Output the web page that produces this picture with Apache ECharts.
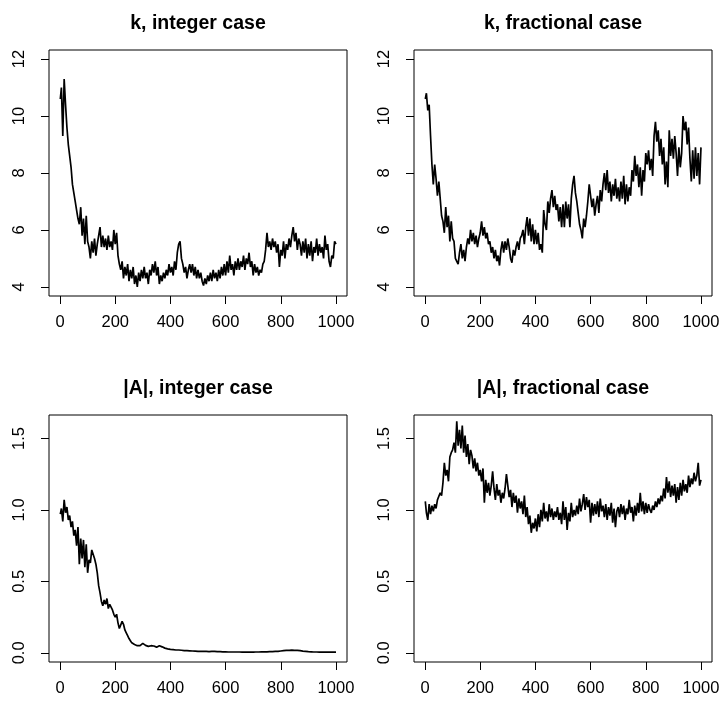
<!DOCTYPE html>
<html>
<head>
<meta charset="utf-8">
<title>k and |A| traces</title>
<script src="https://cdn.jsdelivr.net/npm/echarts@6/dist/echarts.min.js"></script>
<style>
  html, body { margin: 0; padding: 0; background: #fff; }
  #chart { width: 723px; height: 704px; }
</style>
</head>
<body>
<div id="chart"></div>
<script>
// values, one every 5 iterations (first one is iteration 1)
const iterations = Array.from({length: 201}, (_, i) => i === 0 ? 1 : i * 5);

const kInteger = [
  10.6, 11.0, 9.3, 11.3, 10.4, 9.6, 9.0, 8.6, 8.2, 7.6,
  7.3, 7.0, 6.7, 6.4, 6.2, 6.8, 5.8, 6.4, 5.5, 6.5,
  5.6, 5.4, 5.0, 5.6, 5.2, 5.7, 5.1, 5.5, 5.8, 6.1,
  5.4, 5.8, 5.4, 5.7, 5.3, 5.8, 5.4, 5.6, 5.3, 6.0,
  5.5, 5.9, 5.1, 4.8, 4.6, 4.9, 4.3, 4.7, 4.4, 4.8,
  4.2, 4.6, 4.3, 4.7, 4.1, 4.4, 4.0, 4.5, 4.2, 4.6,
  4.3, 4.7, 4.3, 4.5, 4.1, 4.6, 4.4, 4.8, 4.5, 4.9,
  4.4, 4.7, 4.1, 4.4, 4.2, 4.5, 4.3, 4.6, 4.4, 4.8,
  4.5, 4.7, 4.4, 4.9, 4.6, 5.2, 5.5, 5.6, 5.0, 4.8,
  4.5, 4.7, 4.3, 4.6, 4.8, 4.5, 4.8, 4.4, 4.7, 4.3,
  4.6, 4.3, 4.5, 4.2, 4.05, 4.3, 4.1, 4.4, 4.2, 4.5,
  4.2, 4.6, 4.3, 4.5, 4.2, 4.6, 4.3, 4.7, 4.4, 4.8,
  4.4, 4.9, 4.5, 5.1, 4.6, 4.8, 4.4, 4.9, 4.6, 5.0,
  4.6, 4.9, 4.7, 5.1, 4.6, 5.0, 4.8, 5.2, 4.7, 4.9,
  4.4, 4.8, 4.5, 4.7, 4.4, 4.6, 4.5, 4.8, 4.9, 5.3,
  5.9, 5.4, 5.6, 5.3, 5.7, 5.4, 5.6, 5.2, 5.5, 4.7,
  5.3, 5.1, 5.6, 5.0, 5.5, 5.3, 5.7, 5.4, 5.8, 6.1,
  5.6, 5.9, 5.3, 5.7, 5.5, 5.1, 5.6, 5.2, 5.7, 5.0,
  5.5, 5.1, 5.6, 4.9, 5.4, 5.2, 5.7, 5.1, 5.5, 5.2,
  5.4, 5.0, 5.8, 5.3, 5.5, 4.9, 4.7, 5.1, 5.0, 5.6,
  5.5
];

const kFractional = [
  10.6, 10.8, 10.2, 10.4, 9.3, 8.3, 7.6, 8.3, 7.8, 7.2,
  7.7, 7.1, 6.5, 6.3, 5.9, 6.8, 6.1, 6.5, 5.6, 6.3,
  5.7, 5.6, 5.0, 4.9, 4.8, 5.2, 5.5, 5.0, 5.3, 4.9,
  5.4, 5.7, 5.5, 6.0, 5.6, 5.9, 5.5, 5.8, 5.4, 5.7,
  5.9, 6.3, 5.8, 6.1, 5.7, 5.9, 5.5, 5.6, 5.2, 5.4,
  5.0, 5.3, 4.9, 5.1, 4.75, 5.3, 5.6, 5.2, 5.6, 5.3,
  5.7, 5.4, 5.0, 4.85, 5.3, 5.1, 5.4, 5.6, 5.3, 5.7,
  5.8, 6.0, 5.5, 6.1, 6.45, 5.8, 6.4, 5.6, 6.2, 5.5,
  6.0, 5.5, 5.9, 5.3, 5.5, 5.2, 6.7, 6.2, 6.0, 7.0,
  6.6, 7.1, 7.4, 6.8, 7.2, 6.7, 6.9, 6.3, 6.8, 6.1,
  6.9, 6.1, 7.0, 6.4, 6.9, 6.1, 7.1, 7.6, 7.9, 7.3,
  7.0, 6.6, 6.2, 6.0, 5.7, 6.4, 6.1, 6.5, 7.0, 7.6,
  7.2, 6.8, 7.1, 6.5, 6.9, 7.2, 6.6, 7.4, 7.0, 7.6,
  8.0, 7.4, 8.1, 7.3, 7.7, 7.0, 7.6, 7.2, 7.8, 7.1,
  7.5, 7.0, 7.7, 7.1, 7.9, 6.9, 7.6, 7.0, 7.5, 7.2,
  8.1, 7.7, 8.6, 7.9, 8.3, 7.5, 8.2, 7.2, 8.1, 7.7,
  8.7, 8.3, 8.8, 8.1, 8.5, 7.9, 9.3, 9.8, 9.1, 9.5,
  8.6, 9.2, 8.3, 8.9, 7.6, 8.4, 7.5, 9.5, 8.6, 9.2,
  8.5, 9.3, 8.7, 7.9, 8.9, 8.2, 8.7, 10.0, 9.5, 9.8,
  9.0, 9.6, 8.5, 7.7, 8.8, 7.8, 8.9, 7.9, 8.7, 7.6,
  8.9
];

const aInteger = [
  0.97, 1.01, 0.92, 1.07, 0.98, 1.02, 0.93, 0.96, 0.88, 0.92,
  0.82, 0.86, 0.75, 0.88, 0.62, 0.80, 0.66, 0.79, 0.60, 0.76,
  0.56, 0.65, 0.63, 0.72, 0.71, 0.66, 0.62, 0.56, 0.47, 0.42,
  0.36, 0.33, 0.37, 0.34, 0.38, 0.31, 0.34, 0.32, 0.30, 0.27,
  0.25, 0.27, 0.21, 0.17, 0.18, 0.22, 0.20, 0.16, 0.14, 0.12,
  0.10, 0.085, 0.07, 0.063, 0.058, 0.053, 0.05, 0.048, 0.05, 0.058,
  0.066, 0.06, 0.052, 0.048, 0.045, 0.047, 0.05, 0.053, 0.048, 0.042,
  0.04, 0.045, 0.05, 0.047, 0.042, 0.037, 0.033, 0.03, 0.028, 0.026,
  0.024, 0.023, 0.022, 0.021, 0.02, 0.019, 0.02, 0.019, 0.018, 0.017,
  0.016, 0.016, 0.015, 0.015, 0.014, 0.014, 0.013, 0.013, 0.012, 0.012,
  0.011, 0.011, 0.011, 0.010, 0.010, 0.011, 0.010, 0.009, 0.009, 0.010,
  0.011, 0.011, 0.010, 0.009, 0.008, 0.008, 0.008, 0.007, 0.007, 0.007,
  0.007, 0.007, 0.006, 0.006, 0.006, 0.006, 0.006, 0.006, 0.006, 0.006,
  0.006, 0.005, 0.005, 0.005, 0.005, 0.005, 0.005, 0.005, 0.005, 0.005,
  0.005, 0.006, 0.006, 0.006, 0.006, 0.006, 0.007, 0.007, 0.007, 0.007,
  0.007, 0.008, 0.008, 0.008, 0.009, 0.009, 0.010, 0.010, 0.011, 0.012,
  0.013, 0.014, 0.015, 0.016, 0.017, 0.017, 0.018, 0.019, 0.019, 0.018,
  0.018, 0.018, 0.017, 0.016, 0.015, 0.013, 0.012, 0.011, 0.010, 0.009,
  0.008, 0.007, 0.007, 0.006, 0.006, 0.006, 0.006, 0.005, 0.005, 0.005,
  0.005, 0.005, 0.005, 0.005, 0.005, 0.005, 0.005, 0.005, 0.005, 0.005,
  0.005
];

const aFractional = [
  1.06, 0.98, 0.93, 1.04, 0.97, 1.03, 0.99, 1.04, 1.01, 1.07,
  1.06, 1.12, 1.10, 1.19, 1.33, 1.24, 1.28, 1.20, 1.37, 1.40,
  1.42, 1.47, 1.40, 1.62, 1.45, 1.56, 1.43, 1.59, 1.40, 1.52,
  1.37, 1.46, 1.32, 1.42, 1.38, 1.29, 1.36, 1.27, 1.33, 1.24,
  1.28, 1.20, 1.29, 1.05, 1.21, 1.12, 1.19, 1.10, 1.17, 1.27,
  1.15, 1.07, 1.18, 1.10, 1.14, 1.05, 1.12, 1.08, 1.15, 1.25,
  1.17, 1.09, 1.14, 1.02, 1.12, 1.05, 1.10, 0.98, 1.08, 1.01,
  1.06, 0.97, 1.10, 0.95, 1.02, 0.90, 0.96, 0.84, 0.91, 0.87,
  0.94, 0.85, 0.97, 0.88, 1.00, 0.92, 1.05, 0.94, 0.99, 0.92,
  1.04, 0.95, 1.01, 0.93, 0.99, 0.95, 1.02, 0.93, 0.98, 0.90,
  1.06, 0.93, 1.02, 0.86, 0.98, 0.92, 1.05, 0.95, 1.00, 0.96,
  1.03, 0.97, 1.08, 0.99, 1.04, 1.11, 1.00, 1.09, 1.02, 1.07,
  0.91, 1.05, 0.96, 1.04, 0.97, 1.06, 0.95, 1.08, 0.99, 1.03,
  0.95, 1.04, 0.93, 1.02, 0.96, 1.05, 0.91, 1.01, 0.88, 0.99,
  1.02, 0.95, 1.04, 0.97, 1.03, 0.93, 1.01, 0.97, 1.07, 0.98,
  1.02, 0.92, 1.03, 0.96, 1.05, 0.98, 1.12, 0.99, 1.06, 0.97,
  1.05, 0.98, 1.04, 1.00, 0.98, 1.03, 1.00, 1.06, 1.02, 1.08,
  1.04, 1.10, 1.06, 1.15, 1.08, 1.23, 1.12, 1.20, 1.09, 1.17,
  1.10, 1.18, 1.05, 1.16, 1.07, 1.19, 1.10, 1.21, 1.13, 1.18,
  1.12, 1.24, 1.16, 1.22, 1.18, 1.26, 1.20, 1.24, 1.33, 1.17,
  1.21
];

const titles = ['k, integer case', 'k, fractional case', '|A|, integer case', '|A|, fractional case'];
const xTicks = [0, 200, 400, 600, 800, 1000];
const kTicks = [4, 6, 8, 10, 12];
const aTicks = [0, 0.5, 1.0, 1.5];

const font = 'Liberation Sans, Arial, Helvetica, sans-serif';

// plot boxes (R style: 4% padding around the data range)
const boxes = [
  {left: 49, top: 50, width: 298, height: 246},
  {left: 414, top: 50, width: 298, height: 246},
  {left: 49, top: 415, width: 298, height: 247},
  {left: 414, top: 415, width: 298, height: 247}
];
const panels = [
  {data: kInteger, ticks: kTicks, min: 3.68, max: 12.32, fmt: v => String(v)},
  {data: kFractional, ticks: kTicks, min: 3.68, max: 12.32, fmt: v => String(v)},
  {data: aInteger, ticks: aTicks, min: -0.064, max: 1.664, fmt: v => v.toFixed(1)},
  {data: aFractional, ticks: aTicks, min: -0.064, max: 1.664, fmt: v => v.toFixed(1)}
];

const chart = echarts.init(document.getElementById('chart'));

const option = {
  animation: false,
  backgroundColor: '#fff',
  title: boxes.map((b, i) => ({
    text: titles[i],
    left: b.left + b.width / 2,
    top: i < 2 ? 14 : 379,
    textAlign: 'center',
    padding: 0,
    textStyle: {fontFamily: font, fontSize: 19.5, fontWeight: 'bold', color: '#000'}
  })),
  grid: boxes.map(b => ({
    left: b.left, top: b.top, width: b.width, height: b.height,
    show: true, borderColor: '#000', borderWidth: 1, backgroundColor: 'transparent'
  })),
  xAxis: boxes.map((b, i) => ({
    type: 'value', gridIndex: i, min: -39.96, max: 1039.96,
    axisLine: {show: false, onZero: false},
    splitLine: {show: false},
    axisTick: {show: true, customValues: xTicks, length: 8, lineStyle: {color: '#000', width: 1}},
    axisLabel: {customValues: xTicks, margin: 18, color: '#000', fontFamily: font, fontSize: 16.5,
      formatter: v => String(v)}
  })),
  yAxis: panels.map((p, i) => ({
    type: 'value', gridIndex: i, min: p.min, max: p.max,
    axisLine: {show: false, onZero: false},
    splitLine: {show: false},
    axisTick: {show: true, customValues: p.ticks, length: 8, lineStyle: {color: '#000', width: 1}},
    axisLabel: {customValues: p.ticks, rotate: 90, margin: 21, color: '#000',
      fontFamily: font, fontSize: 16.5, formatter: p.fmt}
  })),
  series: panels.map((p, i) => ({
    type: 'line', xAxisIndex: i, yAxisIndex: i,
    data: iterations.map((t, j) => [t, p.data[j]]),
    showSymbol: false,
    lineStyle: {color: '#000', width: 1.7}
  }))
};

chart.setOption(option);
</script>
</body>
</html>
